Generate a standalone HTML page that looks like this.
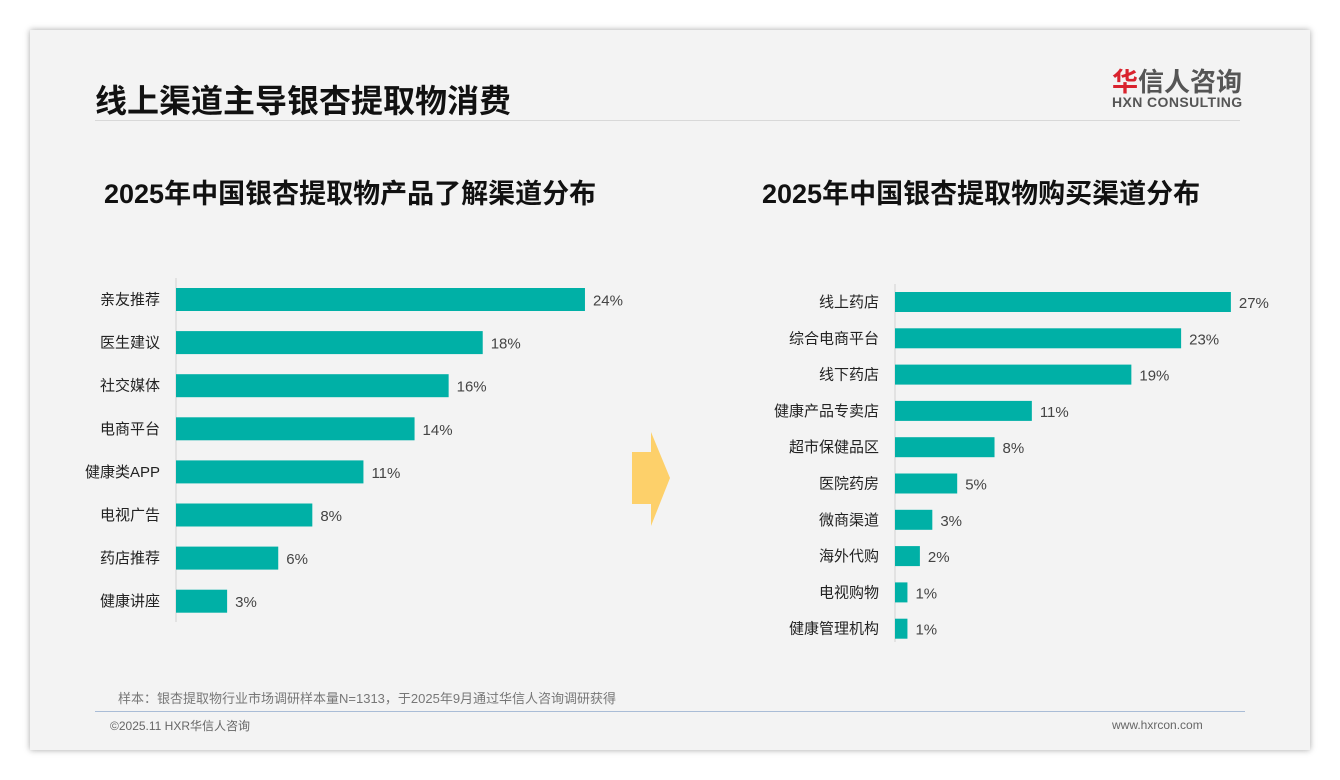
<!DOCTYPE html>
<html><head><meta charset="utf-8"><style>
body{margin:0;width:1340px;height:780px;background:#fff;font-family:"Liberation Sans","Noto Sans CJK SC",sans-serif;position:relative;overflow:hidden}
.card{position:absolute;left:30px;top:30px;width:1280px;height:720px;background:#f3f3f3;box-shadow:0 0 6px rgba(0,0,0,.35)}
.abs{position:absolute;white-space:nowrap}
</style></head><body>
<div class="card"></div>
<div class="abs" style="left:95px;top:76px;font-size:32px;font-weight:bold;color:#111">线上渠道主导银杏提取物消费</div>
<div class="abs" style="left:95px;top:120px;width:1145px;height:1px;background:#d8d8d8"></div>
<div class="abs" style="left:1112px;top:62px;font-size:26px;font-weight:bold;color:#555"><span style="color:#d9232e">华</span>信人咨询</div>
<div class="abs" style="left:1112px;top:94px;font-size:14px;font-weight:bold;color:#555;letter-spacing:0.4px">HXN CONSULTING</div>
<div class="abs" style="left:104px;top:172px;font-size:27px;font-weight:bold;color:#111">2025年中国银杏提取物产品了解渠道分布</div>
<div class="abs" style="left:762px;top:172px;font-size:27px;font-weight:bold;color:#111">2025年中国银杏提取物购买渠道分布</div>
<svg class="abs" style="left:0;top:0" width="1340" height="780">
<polygon points="632,452 651,452 651,432 670,478 651,526 651,504 632,504" fill="#fdd06a"/>
<g id="lg"></g><g id="rg"></g>
</svg>
<div class="abs" style="left:118px;top:688px;font-size:13px;color:#777">样本：银杏提取物行业市场调研样本量N=1313，于2025年9月通过华信人咨询调研获得</div>
<div class="abs" style="left:95px;top:711px;width:1150px;height:1px;background:#a9bcd6"></div>
<div class="abs" style="left:110px;top:717px;font-size:12px;color:#666">©2025.11 HXR华信人咨询</div>
<div class="abs" style="left:1112px;top:718px;font-size:12px;color:#666">www.hxrcon.com</div>
<script>
const leftCats=["亲友推荐","医生建议","社交媒体","电商平台","健康类APP","电视广告","药店推荐","健康讲座"];
const leftVals=[24,18,16,14,11,8,6,3];
const rightCats=["线上药店","综合电商平台","线下药店","健康产品专卖店","超市保健品区","医院药房","微商渠道","海外代购","电视购物","健康管理机构"];
const rightVals=[27,23,19,11,8,5,3,2,1,1];
const NS="http://www.w3.org/2000/svg";
function mk(t,a,p){const e=document.createElementNS(NS,t);for(const k in a)e.setAttribute(k,a[k]);p.appendChild(e);return e;}
function draw(g,cats,vals,x0,xs,y0,step,bh,top,bot){
 const axis=mk('line',{x1:x0,x2:x0,y1:top,y2:bot,stroke:'#d0d0d0'},g);
 
 
 cats.forEach((c,i)=>{
  const y=y0+i*step;
  const r=mk('rect',{x:x0,y:y-bh/2,width:xs(vals[i]),height:bh,fill:'#00b0a6'},g);
  
  
  const l=mk('text',{x:x0-16,y:y+5,'text-anchor':'end','font-size':15,fill:'#222'},g);l.textContent=c;
  
  
  const v=mk('text',{x:x0+xs(vals[i])+8,y:y+6,'font-size':15,fill:'#444'},g);v.textContent=vals[i]+'%';
  
  
 });
}
draw(document.getElementById('lg'),leftCats,leftVals,176,v=>v*17.04,299.5,43.1,23,278,622);
draw(document.getElementById('rg'),rightCats,rightVals,895,v=>v*12.44,302,36.3,20,284,642);
</script>
</body></html>
